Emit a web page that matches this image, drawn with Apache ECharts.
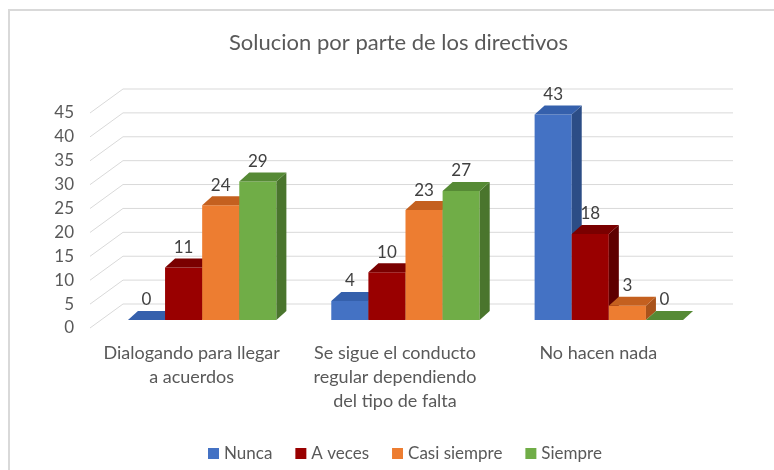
<!DOCTYPE html>
<html>
<head>
<meta charset="utf-8">
<script src="https://cdn.jsdelivr.net/npm/echarts@6/dist/echarts.min.js"></script>
<style>
  html, body { margin: 0; padding: 0; background: #fff; }
  #estrutura { width: 774px; height: 470px; }
</style>
</head>
<body>
<div id="estrutura"></div>
<script>
var categorias = ['Dialogando para llegar\na acuerdos', 'Se sigue el conducto\nregular dependiendo\ndel tipo de falta', 'No hacen nada'];
var nunca = [0, 4, 43];
var aVeces = [11, 10, 18];
var casiSiempre = [24, 23, 3];
var siempre = [29, 27, 0];
var yTicks = [0, 5, 10, 15, 20, 25, 30, 35, 40, 45];

var FONT = 'Lato';

// caras: frente, arriba, lado
function barra3d(k, frente, arriba, lado) {
    return function (params, api) {
        var cat = api.value(0);
        var v = api.value(1);
        var base = api.coord([cat, 0]);
        var tope = api.coord([cat, v]);
        var band = api.size([1, 0])[0];
        var bw = band * 0.73 / 4;
        var x0 = base[0] - 2 * bw + k * bw + 10.5;
        var yb = base[1] - 8;
        var yt = tope[1] - 8;
        var dx = 10, dy = -9;
        var hijos = [];
        if (v > 0) {
            hijos.push({ type: 'rect', shape: { x: x0, y: yt, width: bw, height: yb - yt }, style: { fill: frente } });
            hijos.push({ type: 'polygon', shape: { points: [[x0 + bw, yt], [x0 + bw + dx, yt + dy], [x0 + bw + dx, yb + dy], [x0 + bw, yb]] }, style: { fill: lado } });
        }
        hijos.push({ type: 'polygon', shape: { points: [[x0, yt], [x0 + dx, yt + dy], [x0 + bw + dx, yt + dy], [x0 + bw, yt]] }, style: { fill: arriba } });
        hijos.push({ type: 'text', style: { text: String(v), x: x0 + bw / 2, y: yt - 20, align: 'center', verticalAlign: 'middle', fill: '#404040', font: '17px ' + FONT } });
        return { type: 'group', children: hijos };
    };
}

function pared(params, api) {
    var cs = params.coordSys;
    var y = api.coord([0, api.value(1)])[1];
    return {
        type: 'polyline',
        shape: { points: [[cs.x, y], [cs.x + 33, y - 24], [cs.x + cs.width + 33, y - 24]] },
        style: { stroke: '#d9d9d9', lineWidth: 1, fill: null }
    };
}

function serie(nombre, datos, k, frente, arriba, lado) {
    return {
        name: nombre,
        type: 'custom',
        itemStyle: { color: frente },
        renderItem: barra3d(k, frente, arriba, lado),
        data: datos.map(function (v, i) { return [i, v]; }),
        z: 3
    };
}

var myChart = echarts.init(document.getElementById('estrutura'));

var option = {
    animation: false,
    title: {
        text: 'Solucion por parte de los directivos',
        left: 229,
        top: 32,
        padding: 0,
        textStyle: { color: '#595959', fontSize: 22, fontWeight: 'normal', fontFamily: FONT }
    },
    legend: {
        data: ['Nunca', 'A veces', 'Casi siempre', 'Siempre'],
        left: 203,
        top: 440,
        icon: 'rect',
        itemWidth: 11,
        itemHeight: 11,
        itemGap: 23,
        textStyle: { color: '#595959', fontSize: 17, fontFamily: FONT }
    },
    grid: { left: 90, right: 74, top: 113, bottom: 142 },
    xAxis: {
        type: 'category', data: categorias,
        axisLine: { show: false }, axisTick: { show: false },
        axisLabel: { color: '#595959', fontSize: 18, lineHeight: 24, margin: 13, fontFamily: FONT, interval: 0 }
    },
    yAxis: {
        type: 'value', min: 0, max: 45, interval: 5,
        axisLine: { show: false }, axisTick: { show: false }, splitLine: { show: false },
        axisLabel: { color: '#595959', fontSize: 17, margin: 16, fontFamily: FONT }
    },
    graphic: [
        { type: 'rect', shape: { x: 9, y: 10, width: 800, height: 500 }, style: { fill: null, stroke: '#d9d9d9', lineWidth: 2 }, silent: true }
    ],
    series: [
        {
            name: 'paredes',
            type: 'custom',
            silent: true,
            renderItem: pared,
            data: yTicks.map(function (t) { return [0, t]; }),
            z: 1
        },
        serie('Nunca', nunca, 0, '#4472C4', '#3560AC', '#2C4D86'),
        serie('A veces', aVeces, 1, '#990000', '#7A0000', '#5E0000'),
        serie('Casi siempre', casiSiempre, 2, '#ED7D31', '#C4601F', '#A9531B'),
        serie('Siempre', siempre, 3, '#70AD47', '#568A35', '#4A752D')
    ]
};

option && myChart.setOption(option);
</script>
</body>
</html>
